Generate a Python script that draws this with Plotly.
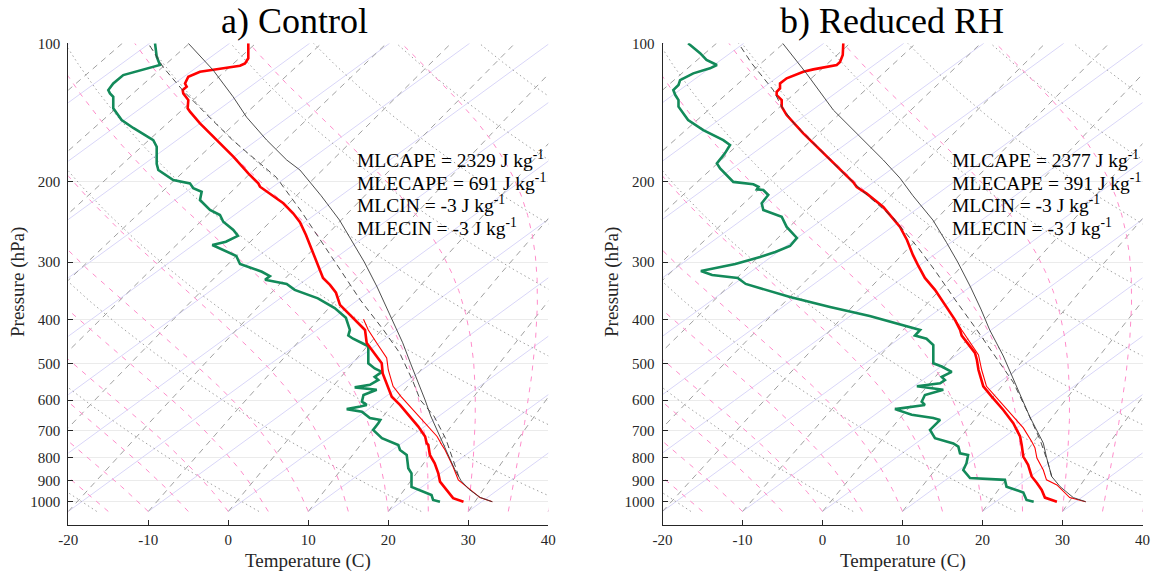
import numpy as np
import plotly.graph_objects as go

W, H = 1156, 573

# ---------------- data: pressure (hPa) and temperature read on the skewed axis (C) -------------
ctl_t_p = [100, 107.8, 110.6, 111.9, 113.9, 115.4, 118.3, 122.4, 124.4, 126.5, 128.6, 133.0, 138.6, 141.0, 149.5, 162.6, 176.7, 192.2, 202.1, 205.5, 210.7, 223.3, 235.1, 245.5, 261.9, 282.4, 300, 312, 325, 336.6, 350, 372, 391, 410, 422, 450.5, 490.6, 498.9, 525, 565.5, 590, 615, 652, 685.7, 720.5, 745.5, 751.9, 790.6, 824.3, 867, 904, 942.6, 982, 1000]
ctl_t = [2.5, 2.5, 2.09, 1.46, -1.45, -3.54, -5.0, -5.41, -5.2, -5.7, -5.63, -5.0, -5.08, -4.79, -3.54, -1.45, 0.63, 2.5, 3.75, 3.96, 4.8, 6.88, 8.13, 8.96, 9.71, 10.46, 11.1, 11.46, 11.84, 12.71, 13.46, 13.96, 15.2, 16.46, 17.09, 17.3, 18.96, 19.18, 19.3, 20.0, 20.43, 21.46, 22.7, 23.75, 24.6, 24.8, 25.0, 25.2, 25.8, 26.25, 26.46, 27.3, 28.1, 29.4]

ctl_tv_p = [400, 422, 450.5, 473.5, 485.6, 516, 560, 590, 630.7, 667, 720.5, 752, 771, 810.7, 839, 896, 927, 979.5, 1000]
ctl_tv = [16.9, 17.5, 18.55, 19.4, 19.8, 20.0, 20.6, 21.6, 23.1, 24.4, 26.1, 26.7, 27.1, 27.7, 28.1, 28.75, 29.8, 31.46, 33.0]

ctl_td_p = [100, 107, 111.5, 114.4, 117.3, 122.3, 126.5, 128.6, 130.8, 138.6, 147, 153, 162.6, 168.1, 183.3, 189, 198.7, 202.1, 207.1, 210.8, 219.7, 231, 236.9, 245, 255.4, 263, 271, 275.4, 282, 291, 303, 315, 322, 328, 335, 345, 360, 378, 397, 422, 434, 441, 450.5, 458, 498.9, 512, 521, 534, 542.5, 556, 563, 570, 585, 605, 615, 620, 628, 636, 657, 663, 674, 697, 727, 752, 771, 790.6, 845, 867, 928, 967, 991, 1000]
ctl_td = [-9.16, -8.95, -8.54, -11.04, -13.13, -14.38, -15.0, -14.79, -14.38, -14.38, -13.33, -11.88, -9.38, -8.95, -8.95, -8.75, -6.88, -4.79, -4.38, -3.33, -3.54, -2.29, -1.04, -0.63, 0.63, 1.2, -0.3, -2.0, -0.8, 1.0, 1.46, 4.2, 5.2, 4.6, 7.3, 8.3, 11.2, 13.3, 14.7, 15.2, 15.0, 15.6, 16.7, 17.5, 17.5, 18.3, 19.2, 18.3, 18.75, 17.7, 15.8, 18.55, 16.9, 16.7, 17.3, 16.5, 14.8, 16.7, 17.7, 19.0, 18.75, 18.1, 19.2, 21.25, 21.46, 22.3, 22.5, 22.9, 22.9, 25.4, 25.6, 26.46]

ctl_parcel_p = [1000, 979, 940, 900, 850, 800, 750, 700, 650, 600, 550, 500, 450, 422, 380, 340, 300, 272, 243, 215, 189, 179.7, 162.6, 145, 130.8, 114.4, 100]
ctl_parcel = [33.0, 31.5, 30.1, 29.1, 28.3, 27.6, 26.9, 26.1, 25.3, 24.6, 23.7, 22.8, 21.8, 21.05, 19.9, 18.6, 17.0, 15.6, 13.9, 11.6, 8.96, 7.3, 4.8, 2.3, 0.6, -1.9, -5.0]

ctl_entr_p = [880, 840, 790, 730, 650, 600, 542, 473, 422, 363, 312, 268, 231, 196, 183, 163, 143, 126, 113, 100]
ctl_entr = [28.8, 28.4, 27.9, 27.2, 25.7, 24.0, 23.0, 21.4, 19.4, 16.5, 14.0, 11.5, 9.0, 6.0, 4.0, 0.6, -2.7, -5.8, -8.1, -10.0]

rh_t_p = [100, 106.1, 109.9, 111.5, 114, 115.4, 119.2, 122.3, 125.4, 127.6, 129.7, 133, 137.5, 143.4, 157.2, 170.9, 182.8, 192.1, 201, 205.9, 212.8, 227.6, 240.9, 251.5, 268.5, 289.5, 304, 325, 345, 372, 401, 422, 434, 473.5, 490.6, 516, 560, 590, 630.7, 674, 720.5, 752, 797, 831, 881, 910, 942.6, 979.5, 1000]
rh_t = [2.6, 2.53, 2.19, 1.78, -1.15, -2.4, -4.48, -5.31, -5.31, -5.73, -5.73, -5.1, -5.1, -4.48, -2.4, -0.31, 1.35, 2.6, 3.85, 4.28, 5.53, 7.6, 8.85, 9.69, 10.56, 11.3, 11.9, 12.8, 14.06, 15.3, 16.56, 17.2, 17.4, 19.06, 19.3, 19.5, 20.1, 21.15, 22.6, 23.85, 24.7, 24.9, 25.1, 25.7, 26.15, 26.8, 27.4, 27.8, 29.3]

rh_tv_p = [401, 422, 478.5, 516, 560, 594, 640, 690, 739, 763, 803, 852.5, 896, 919, 979.5, 1000]
rh_tv = [16.6, 17.4, 19.5, 19.9, 20.5, 21.8, 23.44, 25.1, 26.15, 26.56, 26.8, 27.6, 28.0, 29.3, 30.9, 32.9]

rh_td_p = [100, 105.1, 108.7, 111.5, 113.4, 116.3, 120.3, 123.3, 126.5, 129.7, 133, 137.5, 147, 154.6, 162.6, 166.7, 173.8, 182.8, 187.4, 195.4, 200.6, 203, 205.5, 208.2, 208.9, 214.2, 223.3, 231, 234.9, 238.9, 251.5, 265.8, 276.8, 285.2, 292.4, 302.9, 313.8, 320.1, 324.9, 334.9, 357.6, 376, 393.4, 413.7, 422, 434, 441, 455, 498.9, 507, 521, 534, 542.5, 551.5, 560, 570, 585, 605, 615, 628, 646, 657, 663, 697, 727, 746, 758, 784, 790.6, 824, 852.5, 888, 896, 927, 955, 991, 1000]
rh_td = [-16.8, -15.3, -14.5, -13.2, -14.06, -16.15, -17.8, -18.0, -18.65, -18.4, -18.0, -18.0, -16.8, -14.9, -12.4, -11.56, -12.2, -13.2, -12.8, -11.8, -11.15, -8.65, -8.0, -8.2, -7.4, -6.78, -7.6, -7.4, -6.15, -5.1, -4.48, -3.2, -4.06, -5.9, -7.8, -10.9, -15.2, -13.8, -10.6, -9.6, -4.06, 0.94, 5.9, 10.3, 12.2, 11.56, 13.0, 13.85, 13.85, 14.9, 16.15, 14.9, 15.3, 14.7, 11.8, 15.1, 12.8, 12.4, 12.8, 9.06, 11.15, 13.85, 14.7, 13.44, 14.06, 16.35, 16.98, 17.19, 18.2, 18.0, 17.6, 18.44, 22.8, 23.0, 25.1, 25.5, 26.4]

rh_parcel_p = [1000, 979.5, 927, 881, 800, 745, 652, 560, 481, 422, 380, 340, 300, 272, 243, 215, 196.9, 179.7, 160, 139.8, 116.5, 100]
rh_parcel = [32.9, 31.35, 29.7, 28.65, 28.0, 27.6, 25.9, 24.3, 22.6, 20.9, 19.8, 18.5, 16.9, 15.5, 13.8, 11.3, 9.69, 7.6, 4.69, 1.35, -1.98, -4.98]

rh_entr_p = [881, 824, 733, 641, 549, 473.5, 422, 363, 312, 280, 251, 240, 213, 192, 170, 150, 137.5, 126.5, 110.6, 100]
rh_entr = [28.65, 28.2, 27.2, 25.7, 23.85, 21.35, 19.3, 16.6, 14.0, 12.0, 9.7, 8.8, 5.4, 2.6, -0.4, -3.5, -5.1, -6.15, -8.85, -10.5]

titles = ["a) Control", "b) Reduced RH"]
stats = [
    ["MLCAPE = 2329 J kg<sup>-1</sup>", "MLECAPE = 691 J kg<sup>-1</sup>",
     "MLCIN = -3 J kg<sup>-1</sup>", "MLECIN = -3 J kg<sup>-1</sup>"],
    ["MLCAPE = 2377 J kg<sup>-1</sup>", "MLECAPE = 391 J kg<sup>-1</sup>",
     "MLCIN = -3 J kg<sup>-1</sup>", "MLECIN = -3 J kg<sup>-1</sup>"],
]
x_ticks = [-20, -10, 0, 10, 20, 30, 40]
p_ticks = [100, 200, 300, 400, 500, 600, 700, 800, 900, 1000]

# background families of the skew-T diagram
isotherm_vals = list(range(-100, 41, 10))
theta_vals = list(range(-20, 201, 20))        # dry adiabats, theta (C) at 1000 hPa
mixing_start = list(range(-90, 41, 10))       # saturation temperature at base pressure
moist_start = list(range(-20, 41, 5))         # moist adiabats starting temperature at base

# ---------------- skew-T geometry -------------
SKEW = 78.5      # C per decade of pressure
P_BASE = 1050.0
P_TOP = 100.0
pgrid = np.geomspace(P_BASE, P_TOP, 300)


def skewx(t, p):
    return np.asarray(t) + SKEW * np.log10(P_BASE / np.asarray(p))


def es_hpa(tc):
    return 6.112 * np.exp(17.67 * tc / (tc + 243.5))


def moist_curve(t0):
    Rd, Cp, Lv, eps = 287.04, 1005.7, 2.501e6, 0.622

    def f(T, p):
        es = es_hpa(T - 273.15)
        rs = eps * es / (p - es)
        return (Rd * T + Lv * rs) / (Cp + Lv * Lv * rs * eps / (Rd * T * T)) / p

    T = t0 + 273.15
    out = [T]
    for i in range(len(pgrid) - 1):
        p1, p2 = pgrid[i], pgrid[i + 1]
        h = p2 - p1
        k1 = f(T, p1)
        k2 = f(T + 0.5 * h * k1, p1 + 0.5 * h)
        k3 = f(T + 0.5 * h * k2, p1 + 0.5 * h)
        k4 = f(T + h * k3, p2)
        T = T + h / 6 * (k1 + 2 * k2 + 2 * k3 + k4)
        out.append(T)
    return np.array(out) - 273.15


def family(curves):
    xs, ys = [], []
    for tc in curves:
        xs += list(skewx(tc, pgrid)) + [None]
        ys += list(pgrid) + [None]
    return xs, ys


iso = family([np.full_like(pgrid, t, dtype=float) for t in isotherm_vals])
dry = family([(th + 273.15) * (pgrid / 1000.0) ** 0.2857 - 273.15 for th in theta_vals])
mix_curves = []
for t0 in mixing_start:
    e0 = es_hpa(t0)
    w = 0.622 * e0 / (P_BASE - e0)
    e = w * pgrid / (0.622 + w)
    le = np.log(e / 6.112)
    mix_curves.append(243.5 * le / (17.67 - le))
mix = family(mix_curves)
moist = family([moist_curve(t0) for t0 in moist_start])

fig = go.Figure()
panels = [
    dict(xa="x", ya="y", t=(ctl_t_p, ctl_t), tv=(ctl_tv_p, ctl_tv), td=(ctl_td_p, ctl_td),
         par=(ctl_parcel_p, ctl_parcel), ent=(ctl_entr_p, ctl_entr)),
    dict(xa="x2", ya="y2", t=(rh_t_p, rh_t), tv=(rh_tv_p, rh_tv), td=(rh_td_p, rh_td),
         par=(rh_parcel_p, rh_parcel), ent=(rh_entr_p, rh_entr)),
]


def add_line(xs, ys, xa, ya, color, width, dash="solid"):
    fig.add_trace(go.Scatter(x=xs, y=ys, mode="lines", xaxis=xa, yaxis=ya,
                             line=dict(color=color, width=width, dash=dash),
                             hoverinfo="skip", showlegend=False, connectgaps=False))


for pn in panels:
    xa, ya = pn["xa"], pn["ya"]
    add_line(iso[0], iso[1], xa, ya, "#d9d6f8", 1)
    add_line(mix[0], mix[1], xa, ya, "#a0a0a0", 1, "6px,5px")
    add_line(dry[0], dry[1], xa, ya, "#a0a0a0", 1, "1.5px,3px")
    add_line(moist[0], moist[1], xa, ya, "#ff8cca", 1, "5px,6px")
    # sounding curves
    add_line(pn["td"][1], pn["td"][0], xa, ya, "#138a5a", 2.6)
    add_line(pn["tv"][1], pn["tv"][0], xa, ya, "#ff0000", 1.1)
    add_line(pn["t"][1], pn["t"][0], xa, ya, "#ff0000", 2.6)
    add_line(pn["ent"][1], pn["ent"][0], xa, ya, "#3a3a3a", 0.9, "6px,4px")
    add_line(pn["par"][1], pn["par"][0], xa, ya, "#3a3a3a", 0.9)

AX = "#262626"
FONT = "Liberation Serif"
common_x = dict(range=[-20, 40], tickvals=x_ticks, ticktext=[str(v) for v in x_ticks],
                ticks="inside", ticklen=5, tickcolor=AX, showline=True, linecolor=AX,
                linewidth=1, showgrid=False, zeroline=False, automargin=False,
                tickfont=dict(family=FONT, size=15, color=AX), ticklabelstandoff=1)
common_y = dict(type="log", range=[np.log10(1124), 2], tickvals=p_ticks,
                ticktext=[str(v) for v in p_ticks], ticks="inside", ticklen=5,
                tickcolor=AX, showline=True, linecolor=AX, linewidth=1, showgrid=True,
                gridcolor="#ebebeb", gridwidth=1, zeroline=False, automargin=False,
                tickfont=dict(family=FONT, size=15, color=AX), ticklabelstandoff=4)
ydom = [1 - 525 / H, 1 - 43.3 / H]
fig.update_layout(
    width=W, height=H, margin=dict(l=0, r=0, t=0, b=0, autoexpand=False),
    paper_bgcolor="white", plot_bgcolor="white",
    xaxis=dict(domain=[68.3 / W, 548.3 / W], anchor="y", **common_x),
    yaxis=dict(domain=ydom, anchor="x", **common_y),
    xaxis2=dict(domain=[662.5 / W, 1142.5 / W], anchor="y2", **common_x),
    yaxis2=dict(domain=ydom, anchor="x2", **common_y),
)

ann = []
title_cx = [294, 892]
ylab_x = [18, 612]
xlab_cx = [308.3, 902.5]
stat_x = [355, 950]
stat_y = [159, 182, 204, 227]
for i in range(2):
    ann.append(dict(text=titles[i], x=title_cx[i] / W, y=1 - 21 / H, xref="paper", yref="paper",
                    showarrow=False, xanchor="center", yanchor="middle",
                    font=dict(family=FONT, size=36, color="black")))
    ann.append(dict(text="Pressure (hPa)", x=ylab_x[i] / W, y=1 - 282 / H, xref="paper",
                    yref="paper", showarrow=False, textangle=-90, xanchor="center",
                    yanchor="middle", font=dict(family=FONT, size=19, color=AX)))
    ann.append(dict(text="Temperature (C)", x=xlab_cx[i] / W, y=1 - 561 / H, xref="paper",
                    yref="paper", showarrow=False, xanchor="center", yanchor="middle",
                    font=dict(family=FONT, size=19, color=AX)))
    for j, s in enumerate(stats[i]):
        ann.append(dict(text=s, x=stat_x[i] / W, y=1 - stat_y[j] / H, xref="paper",
                        yref="paper", showarrow=False, xanchor="left", yanchor="middle",
                        font=dict(family=FONT, size=19.5, color="black")))
fig.update_layout(annotations=ann)

fig.write_html("out.html")
